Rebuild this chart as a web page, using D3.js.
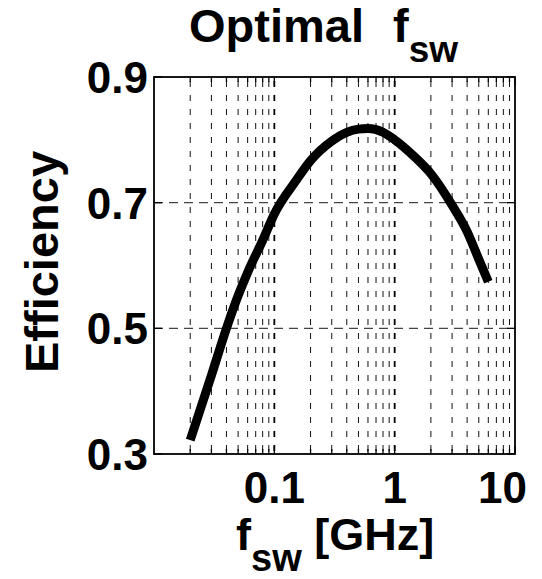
<!DOCTYPE html>
<html>
<head>
<meta charset="utf-8">
<script src="https://cdn.jsdelivr.net/npm/d3@7"></script>
<style>
  html, body { margin: 0; padding: 0; background: #fff; }
  svg { display: block; }
  text { font-family: "Liberation Sans", Arial, Helvetica, sans-serif; font-weight: bold; fill: #000; }
</style>
</head>
<body>
<svg id="chart" width="542" height="579"></svg>
<script>
// ---- data ----
const freqGHz = [0.02, 0.03, 0.04, 0.05, 0.06, 0.08, 0.1, 0.15, 0.2, 0.3, 0.4, 0.5, 0.6, 0.8, 1, 1.5, 2, 3, 4, 5, 6];
const efficiency = [0.322, 0.425, 0.50, 0.552, 0.589, 0.640, 0.682, 0.734, 0.767, 0.798, 0.812, 0.817, 0.818, 0.812, 0.80, 0.771, 0.746, 0.696, 0.654, 0.61, 0.574];
const xTickValues = [0.1, 1, 10];
const xTickLabels = ["0.1", "1", "10"];
const yTickValues = [0.3, 0.5, 0.7, 0.9];
const yTickLabels = ["0.3", "0.5", "0.7", "0.9"];
const xDomain = [0.01, 10];
const yDomain = [0.3, 0.9];

// ---- layout ----
const svg = d3.select("#chart");
const L = 154, R = 515, T = 77, B = 454;

const x = d3.scaleLog().domain(xDomain).range([L, R]);
const y = d3.scaleLinear().domain(yDomain).range([B, T]);

// minor positions (2..9 per decade)
const minorX = [];
for (let d = 0.01; d < 10; d *= 10) {
  for (let k = 2; k <= 9; k++) minorX.push(+(d * k).toPrecision(3));
}

const grid = svg.append("g");
// vertical minor grid
grid.selectAll("line.vmin").data(minorX).enter().append("line")
  .attr("x1", d => x(d)).attr("x2", d => x(d))
  .attr("y1", T).attr("y2", B)
  .attr("stroke", "#111").attr("stroke-width", 1)
  .attr("stroke-dasharray", "6,8").attr("stroke-dashoffset", -4);
// vertical major grid
grid.selectAll("line.vmaj").data(xTickValues.filter(v => v < 10)).enter().append("line")
  .attr("x1", d => x(d)).attr("x2", d => x(d))
  .attr("y1", T).attr("y2", B)
  .attr("stroke", "#000").attr("stroke-width", 1.8)
  .attr("stroke-dasharray", "6,8").attr("stroke-dashoffset", -4);
// horizontal grid
grid.selectAll("line.h").data(yTickValues.filter(v => v > yDomain[0] && v < yDomain[1])).enter().append("line")
  .attr("x1", L).attr("x2", R)
  .attr("y1", d => y(d)).attr("y2", d => y(d))
  .attr("stroke", "#444").attr("stroke-width", 1.3)
  .attr("stroke-dasharray", "9,6");

// ticks inside: bottom and top
const tickG = svg.append("g").attr("stroke", "#000");
const allX = minorX.concat(xTickValues);
tickG.selectAll("line.tb").data(allX).enter().append("line")
  .attr("x1", d => x(d)).attr("x2", d => x(d))
  .attr("y1", B).attr("y2", d => B - (xTickValues.includes(d) ? 8 : 5))
  .attr("stroke-width", 1.3);
tickG.selectAll("line.tt").data(allX).enter().append("line")
  .attr("x1", d => x(d)).attr("x2", d => x(d))
  .attr("y1", T).attr("y2", d => T + (xTickValues.includes(d) ? 8 : 5))
  .attr("stroke-width", 1.3);
tickG.selectAll("line.tl").data(yTickValues).enter().append("line")
  .attr("x1", L).attr("x2", L + 8)
  .attr("y1", d => y(d)).attr("y2", d => y(d)).attr("stroke-width", 1.3);
tickG.selectAll("line.tr").data(yTickValues).enter().append("line")
  .attr("x1", R).attr("x2", R - 8)
  .attr("y1", d => y(d)).attr("y2", d => y(d)).attr("stroke-width", 1.3);

// box
svg.append("rect").attr("x", L).attr("y", T).attr("width", R - L).attr("height", B - T)
  .attr("fill", "none").attr("stroke", "#000").attr("stroke-width", 1.8);

// curve
const line = d3.line().x((d, i) => x(freqGHz[i])).y(d => y(d)).curve(d3.curveMonotoneX);
svg.append("path").datum(efficiency)
  .attr("d", line)
  .attr("fill", "none").attr("stroke", "#000").attr("stroke-width", 9)
  .attr("stroke-linejoin", "round").attr("stroke-linecap", "butt");

// tick labels
svg.append("g").selectAll("text").data(xTickValues).enter().append("text")
  .attr("x", (d, i) => i === xTickValues.length - 1 ? 527 : x(d)).attr("y", 503)
  .attr("text-anchor", (d, i) => i === xTickValues.length - 1 ? "end" : "middle")
  .attr("font-size", 44)
  .text((d, i) => xTickLabels[i]);
svg.append("g").selectAll("text").data(yTickValues).enter().append("text")
  .attr("x", 148).attr("y", d => y(d) + 16)
  .attr("text-anchor", "end").attr("font-size", 44)
  .text((d, i) => yTickLabels[i]);

// title
const title = svg.append("text").attr("x", 189).attr("y", 42)
  .attr("text-anchor", "start").attr("font-size", 47);
title.append("tspan").text("Optimal");
title.append("tspan").attr("x", 393).text("f");
title.append("tspan").attr("dy", 20).attr("font-size", 37).text("sw");

// x label
const xl = svg.append("text").attr("x", 236).attr("y", 550)
  .attr("text-anchor", "start").attr("font-size", 45);
xl.append("tspan").text("f");
xl.append("tspan").attr("dy", 21).attr("font-size", 38).text("sw");
xl.append("tspan").attr("dy", -21).attr("font-size", 45).text("\u00a0[GHz]");

// y label
svg.append("text")
  .attr("transform", "translate(58,262) rotate(-90)")
  .attr("text-anchor", "middle").attr("font-size", 47)
  .text("Efficiency");
</script>
</body>
</html>
